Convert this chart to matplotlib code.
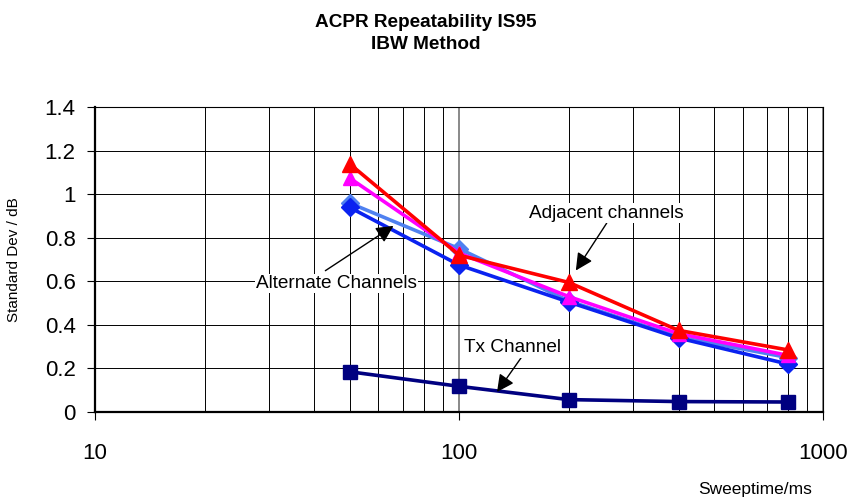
import matplotlib.pyplot as plt
from matplotlib.ticker import LogLocator, NullFormatter, FixedLocator

plt.rcParams['font.family'] = ['Liberation Sans', 'DejaVu Sans']

sweep = [50, 100, 200, 400, 800]
adj_upper = [1.14, 0.72, 0.595, 0.375, 0.285]
adj_lower = [1.075, 0.73, 0.53, 0.36, 0.26]
alt_upper = [0.96, 0.75, 0.51, 0.345, 0.25]
alt_lower = [0.94, 0.675, 0.505, 0.34, 0.22]
tx_channel = [0.185, 0.118, 0.057, 0.048, 0.046]

fig = plt.figure(figsize=(8.52, 5.01), dpi=100)
ax = fig.add_axes([0.1115, 0.1776, 0.855, 0.6084])

ax.plot(sweep, alt_upper, color='#4f81f0', lw=2.6, marker='D', ms=9, zorder=3)
ax.plot(sweep, alt_lower, color='#0a22f0', lw=2.6, marker='D', ms=9, zorder=3)
ax.plot(sweep, adj_lower, color='#ff00ff', lw=2.6, marker='^', ms=10, zorder=4)
ax.plot(sweep, adj_upper, color='#ff0000', lw=2.6, marker='^', ms=11, zorder=4)
ax.plot(sweep, tx_channel, color='#000080', lw=2.6, marker='s', ms=10, zorder=3)

ax.set_xscale('log')
ax.set_xlim(10, 1000)
ax.set_ylim(0, 1.4)
ax.yaxis.set_major_locator(FixedLocator([0, 0.2, 0.4, 0.6, 0.8, 1.0, 1.2, 1.4]))
ax.set_yticklabels(['0', '0.2', '0.4', '0.6', '0.8', '1', '1.2', '1.4'])
ax.xaxis.set_major_locator(FixedLocator([10, 100, 1000]))
ax.set_xticklabels(['10', '100', '1000'])
ax.xaxis.set_minor_locator(LogLocator(base=10, subs=range(2, 10)))
ax.xaxis.set_minor_formatter(NullFormatter())

ax.grid(which='major', axis='x', color='#808080', lw=1.3)
ax.grid(which='minor', axis='x', color='black', lw=0.7)
ax.grid(which='major', axis='y', color='black', lw=0.7)
ax.tick_params(axis='both', which='major', labelsize=16, direction='out', length=6, width=0.8)
ax.tick_params(axis='x', which='minor', length=0)
ax.tick_params(axis='x', which='major', pad=16)
ax.tick_params(axis='y', which='major', pad=8)
for side in ['left', 'bottom']:
    ax.spines[side].set_linewidth(1.6)
for side in ['top', 'right']:
    ax.spines[side].set_linewidth(0.8)

ax.set_ylabel('Standard Dev / dB', fontsize=11)
ax.yaxis.set_label_coords(-0.101, 0.5)
fig.text(0.953, 0.014, 'Sweeptime/ms', fontsize=12.5, ha='right', va='baseline')
fig.text(0.5, 0.933, 'ACPR Repeatability IS95\nIBW Method', fontsize=13.7,
         fontweight='bold', ha='center', va='center', linespacing=1.38)

arrow = dict(arrowstyle='-|>', color='black', lw=1, mutation_scale=26)
ax.annotate('Adjacent channels', xy=(209, 0.65), xytext=(253, 0.913),
            fontsize=13.7, ha='center', va='center',
            arrowprops=dict(arrow, shrinkA=0, shrinkB=0, relpos=(0.51, 0.0)),
            bbox=dict(fc='white', ec='none', pad=1))
ax.annotate('Alternate Channels', xy=(66, 0.855), xytext=(46, 0.59),
            fontsize=13.7, ha='center', va='center',
            arrowprops=dict(arrow, shrinkA=4, shrinkB=0, relpos=(0.39, 1.0)),
            bbox=dict(fc='white', ec='none', pad=1))
ax.annotate('Tx Channel', xy=(127, 0.092), xytext=(140, 0.295),
            fontsize=13.7, ha='center', va='center',
            arrowprops=dict(arrow, shrinkA=0, shrinkB=0, relpos=(0.6, 0.0)),
            bbox=dict(fc='white', ec='none', pad=1))

fig.savefig('out.png', dpi=100)
